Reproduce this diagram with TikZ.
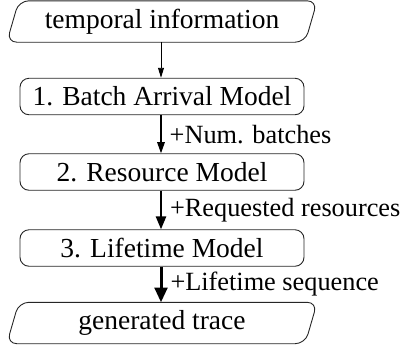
\documentclass[tikz,border=0pt]{standalone}
\usepackage{fontspec}
\setmainfont{Liberation Serif}
\usetikzlibrary{arrows.meta}
\begin{document}
\begin{tikzpicture}[x=1pt,y=-1pt,
  every node/.style={font=\fontsize{27.5}{31}\selectfont, inner sep=0pt},
  modelbox/.style={draw=black!85, line width=0.9pt, rounded corners=9pt,
    minimum width=284pt, minimum height=36.5pt},
  iobox/.style={minimum width=298pt, minimum height=41pt},
  lbl/.style={anchor=west, font=\fontsize{26.3}{30}\selectfont},
  flow/.style={draw=black, -{Triangle[width=#1*3.2pt+3pt, length=#1*2.2pt+8pt]}, line width=#1}
]
\useasboundingbox (0,0) rectangle (409,349);
\node[iobox] (in) at (162,21.5) {temporal information};
\draw[draw=black!85, line width=0.9pt, rounded corners=10pt]
  ([xshift=-6pt]in.south west) -- ([xshift=6pt]in.north west) --
  ([xshift=6pt]in.north east) -- ([xshift=-6pt]in.south east) -- cycle;
\node[modelbox] (m1) at (162,96.5) {1. Batch Arrival Model};
\node[modelbox] (m2) at (162,172) {2. Resource Model};
\node[modelbox] (m3) at (162,248) {3. Lifetime Model};
\node[iobox] (out) at (162,323) {generated trace};
\draw[draw=black!85, line width=0.9pt, rounded corners=10pt]
  ([xshift=-6pt]out.south west) -- ([xshift=6pt]out.north west) --
  ([xshift=6pt]out.north east) -- ([xshift=-6pt]out.south east) -- cycle;
\draw[flow=0.9pt] ([xshift=-1pt]in.south) -- ([xshift=-1pt]m1.north);
\draw[flow=1.4pt] ([xshift=-1pt]m1.south) -- ([xshift=-1pt]m2.north)
  node[lbl, midway, xshift=8pt] {+Num. batches};
\draw[flow=2.2pt] ([xshift=-1pt]m2.south) -- ([xshift=-1pt]m3.north)
  node[lbl, midway, xshift=8pt] {+Requested resources};
\draw[flow=3pt] ([xshift=-1pt]m3.south) -- ([xshift=-1pt]out.north)
  node[lbl, midway, xshift=8pt] {+Lifetime sequence};
\end{tikzpicture}
\end{document}
